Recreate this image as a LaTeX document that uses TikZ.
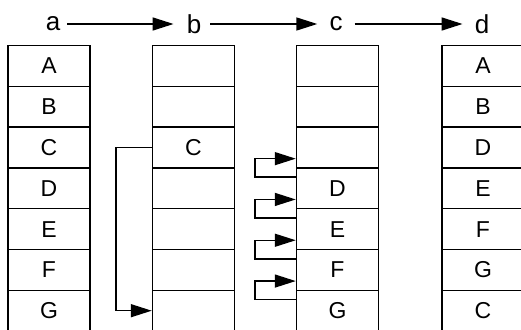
\documentclass[tikz,border=0pt]{standalone}
\usepackage{fontspec}
\setmainfont{Liberation Sans}
\usetikzlibrary{arrows.meta,calc}
\tikzset{
  cell/.style={draw, line width=1.5pt, minimum width=82pt, minimum height=40.8pt, inner sep=0pt, font=\fontsize{23}{23}\selectfont},
  lbl/.style={inner sep=0pt, font=\fontsize{26}{26}\selectfont},
  arr/.style={line width=1.5pt, -{Triangle[length=21pt,width=13pt]}},
}
\begin{document}
\begin{tikzpicture}[x=1pt,y=-1pt]
\useasboundingbox (0,0) rectangle (521,329);
% column labels
\node[lbl] (la) at (53,24) {a};
\node[lbl] (lb) at (194,24) {b};
\node[lbl] (lc) at (336,24) {c};
\node[lbl] (ld) at (482,24) {d};
\draw[arr, shorten <=7pt, shorten >=13pt] (la) -- (lb);
\draw[arr, shorten <=9pt, shorten >=12pt] (lb) -- (lc);
\draw[arr, shorten <=12pt, shorten >=12pt] (lc) -- (ld);
% columns
\foreach \i/\ta/\tb/\tc/\td in {1/A///A, 2/B///B, 3/C/C//D, 4/D//D/E, 5/E//E/F, 6/F//F/G, 7/G//G/C}{
  \node[cell] (a\i) at (49, 45.5+40.8*\i-20.4) {\ta};
  \node[cell] (b\i) at (193.5, 45.5+40.8*\i-20.4) {\tb};
  \node[cell] (c\i) at (337.5, 45.5+40.8*\i-20.4) {\tc};
  \node[cell] (d\i) at (483, 45.5+40.8*\i-20.4) {\td};
}
% move C to the end
\draw[arr] (b3.west) -- ++(-36,0) |- (b7.west);
% shifting arrows
\foreach \k/\u in {4/3, 5/4, 6/5, 7/6}{
  \draw[arr] ($(c\k.north west)+(0,10)$) -- ++(-41,0) |- ($(c\u.south west)+(0,-10)$);
}
\end{tikzpicture}
\end{document}
